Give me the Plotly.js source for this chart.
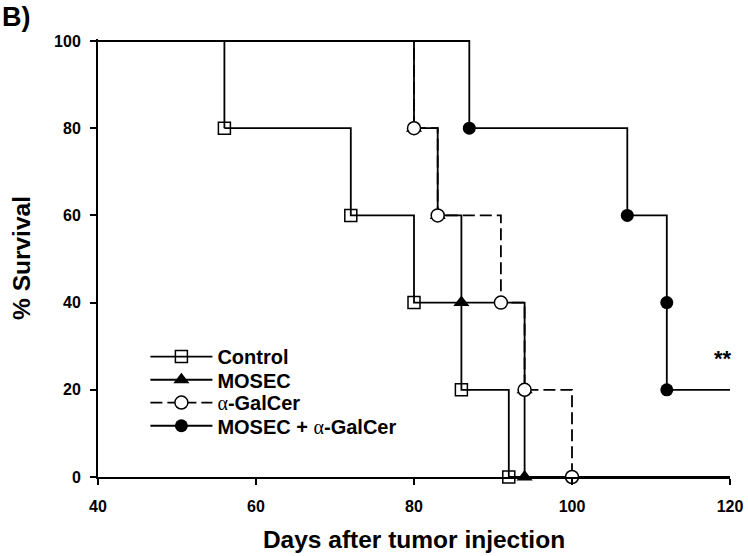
<!DOCTYPE html>
<html><head><meta charset="utf-8">
<script src="https://cdn.plot.ly/plotly-3.0.1.min.js"></script>
<style>html,body{margin:0;padding:0;background:#fff}</style>
</head><body><div id="chart" style="width:748px;height:556px"></div>
<script>
// ---- data ----
const startDay = 40;
const endDay = 120;
const startPct = 100;
const controlDays = [56, 72, 80, 86, 92];
const controlPct  = [80, 60, 40, 20, 0];
const mosecDays   = [80, 83, 86, 94, 94];
const mosecPct    = [80, 60, 40, 20, 0];
const galDays     = [80, 83, 91, 94, 100];
const galPct      = [80, 60, 40, 20, 0];
const comboDays   = [87, 107, 112, 112];
const comboPct    = [80, 60, 40, 20];
const alpha = '<span style="font-family:Liberation Serif;font-weight:normal">α</span>';
const seriesNames = ['Control', 'MOSEC', alpha + '-GalCer', 'MOSEC + ' + alpha + '-GalCer'];
const xTicks = [40, 60, 80, 100, 120];
const yTicks = [0, 20, 40, 60, 80, 100];

// ---- styles ----
const FONT = 'Arial, Liberation Sans, sans-serif';
const LW = 1.8;
const styles = [
  {dash: 'solid', marker: {symbol: 'square-open', size: 12, color: '#000', line: {width: 1.5, color: '#000'}}},
  {dash: 'solid', marker: {symbol: 'triangle-up', size: 14, color: '#000', line: {width: 0}}},
  {dash: '12px,5px', marker: {symbol: 'circle', size: 13, color: '#fff', line: {width: 1.5, color: '#000'}}},
  {dash: 'solid', marker: {symbol: 'circle', size: 13, color: '#000', line: {width: 0}}}
];
const series = [
  [controlDays, controlPct],
  [mosecDays, mosecPct],
  [galDays, galPct],
  [comboDays, comboPct]
];
const legendIds = ['legend', 'legend2', 'legend3', 'legend4'];
const legendRowY = [0.275, 0.222, 0.170, 0.117];   // paper positions of legend rows

const traces = [];
series.forEach(([d, p], i) => {
  traces.push({
    x: [startDay, d[0]], y: [startPct, p[0]], mode: 'lines', showlegend: false,
    line: {shape: 'hv', color: '#000', width: LW, dash: styles[i].dash},
    hoverinfo: 'skip', cliponaxis: false
  });
  traces.push({
    x: [d[d.length - 1], endDay], y: [p[p.length - 1], p[p.length - 1]], mode: 'lines', showlegend: false,
    line: {shape: 'hv', color: '#000', width: LW},
    hoverinfo: 'skip', cliponaxis: false
  });
});
series.forEach(([d, p], i) => {
  traces.push({
    x: d, y: p, name: seriesNames[i], mode: 'lines+markers', legend: legendIds[i],
    line: {shape: 'hv', color: '#000', width: LW, dash: styles[i].dash},
    marker: styles[i].marker, cliponaxis: false
  });
});

const layout = {
  width: 748, height: 556,
  margin: {l: 98, r: 18, t: 39, b: 79},
  paper_bgcolor: '#fff', plot_bgcolor: '#fff',
  font: {family: FONT, color: '#000'},
  showlegend: true,
  xaxis: {
    range: [40, 120], tickvals: xTicks, ticktext: xTicks.map(String),
    showgrid: false, zeroline: false, showline: true, linecolor: '#000', linewidth: 2,
    ticks: 'outside', ticklen: 6, tickwidth: 2, tickcolor: '#000',
    tickfont: {family: FONT, size: 16, weight: 700}, ticklabelstandoff: 8,
    title: {text: 'Days after tumor injection', font: {family: FONT, size: 24.5, weight: 700}, standoff: 17},
    automargin: false
  },
  yaxis: {
    range: [0, 100.46], tickvals: yTicks, ticktext: yTicks.map(String),
    showgrid: false, zeroline: false, showline: true, linecolor: '#000', linewidth: 2,
    ticks: 'outside', ticklen: 6, tickwidth: 2, tickcolor: '#000',
    tickfont: {family: FONT, size: 16, weight: 700}, ticklabelstandoff: 6,
    title: {text: '% Survival', font: {family: FONT, size: 24.5, weight: 700}, standoff: 17},
    automargin: false
  },
  annotations: [
    {text: 'B)', xref: 'paper', yref: 'paper', x: -0.155, y: 1.05, xanchor: 'left', yanchor: 'middle',
     showarrow: false, font: {family: FONT, size: 27, weight: 700}},
    {text: '**', xref: 'paper', yref: 'paper', x: 0.989, y: 0.2706, xanchor: 'center', yanchor: 'middle',
     showarrow: false, font: {family: FONT, size: 22, weight: 700}}
  ]
};
legendIds.forEach((id, i) => {
  layout[id] = {
    x: 0.075, y: legendRowY[i], xanchor: 'left', yanchor: 'middle',
    bgcolor: 'rgba(0,0,0,0)', borderwidth: 0, itemwidth: 62,
    font: {family: FONT, size: 20, weight: 700, color: '#000'}
  };
});

Plotly.newPlot('chart', traces, layout, {displayModeBar: false, staticPlot: true});
</script>
</body></html>
